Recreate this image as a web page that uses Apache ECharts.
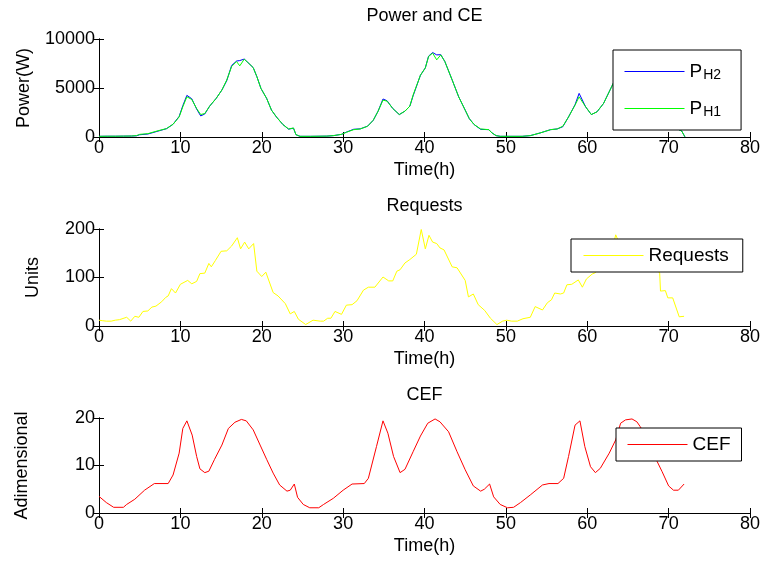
<!DOCTYPE html>
<html>
<head>
<meta charset="utf-8">
<script src="https://cdn.jsdelivr.net/npm/echarts@6/dist/echarts.min.js"></script>
<style>
  html, body { margin: 0; padding: 0; background: #ffffff; }
  #chart { width: 764px; height: 572px; }
</style>
</head>
<body>
<div id="chart"></div>
<script>
// ---- Power of the two hosts (W) over time (h) ----
const powerTime = [0, 1, 2, 3, 4, 4.6, 5, 6, 7, 8.3, 9.1, 9.85, 10.3, 10.8, 11.4, 12, 12.5, 13, 13.6, 14.4,
  15.1, 15.7, 16.3, 16.9, 17.3, 17.85, 18.3, 18.95, 19.4, 19.9, 20.6, 21.2, 21.8, 22.6, 23.3, 23.9, 24.2, 24.7,
  26, 28, 28.8, 29.8, 30.4, 31.3, 32.1, 33, 33.7, 34.3, 34.9, 35.4, 36.1, 36.9, 37.6, 38.2, 38.6, 39.5, 40.1,
  40.5, 41.0, 41.5, 42.0, 42.5, 43.4, 44.2, 45, 45.5, 46.1, 46.9, 47.9, 48.3, 48.8, 49.3, 52, 53, 54.2, 55.5,
  56.3, 57, 57.7, 58.5, 59, 59.8, 60.5, 61.2, 62, 62.5, 63.2, 63.6, 64, 64.5, 65, 65.5, 66, 66.5, 67, 67.5,
  68, 68.5, 69, 69.5, 70, 70.5, 71, 71.6, 72];
const powerH1 = [70, 80, 80, 90, 100, 140, 270, 340, 580, 860, 1300, 2050, 3080, 4100, 3830, 2900, 2290, 2400, 3150, 3940,
  4790, 5820, 7190, 7700, 7260, 7940, 7600, 7080, 6160, 4960, 3940, 2740, 2050, 1270, 820, 920, 240, 70,
  70, 90, 140, 270, 480, 750, 820, 1100, 1710, 2640, 3760, 3660, 2910, 2290, 2640, 3150, 4280, 6300, 7050,
  8210, 8560, 7870, 8380, 7700, 5820, 4100, 2740, 1880, 1270, 820, 750, 410, 140, 70, 70, 140, 410, 750,
  820, 1100, 2050, 3250, 4100, 3080, 2290, 2570, 3420, 4280, 5480, 6300, 7000, 7700, 8100, 8250, 8000, 7500, 6500, 5400,
  4400, 3500, 2700, 2050, 1500, 1100, 850, 620, 20];
const powerH2 = [70, 80, 80, 90, 100, 120, 230, 300, 540, 850, 1300, 2100, 3200, 4250, 3900, 2850, 2150, 2350, 3150, 3940,
  4790, 5750, 7300, 7750, 7800, 7950, 7600, 7080, 6160, 4960, 3940, 2740, 2050, 1270, 800, 900, 240, 70,
  70, 90, 140, 270, 500, 790, 830, 1100, 1700, 2640, 3880, 3700, 2910, 2290, 2640, 3150, 4200, 6300, 7050,
  8250, 8620, 8380, 8400, 7700, 5820, 4100, 2740, 1880, 1270, 780, 750, 410, 140, 70, 70, 140, 410, 750,
  820, 1050, 2050, 3300, 4450, 3080, 2290, 2570, 3420, 4280, 5480, 6300, 7000, 7700, 8100, 8250, 8000, 7500, 6500, 5400,
  4400, 3500, 2700, 2050, 1500, 1100, 850, 620, 20];

// ---- Incoming requests (units) ----
const requestTime = [0, 0.4, 0.9, 1.5, 2, 2.5, 3.4, 3.9, 4.4, 4.9, 5.4, 6, 6.5, 7, 7.7, 8.2, 8.5, 8.9, 9.4, 10,
  10.9, 11.4, 12, 12.4, 13, 13.5, 13.8, 14.3, 15, 15.7, 16.3, 17, 17.4, 17.9, 18.4, 19, 19.4, 20, 20.5, 21.4,
  22, 22.9, 23.5, 24, 24.5, 25.4, 26.3, 27.2, 27.6, 28.1, 28.5, 29, 29.8, 30.4, 31.1, 31.7, 32.5, 33.1, 33.9, 34.9,
  35.6, 36.1, 36.6, 37, 37.6, 38.2, 39, 39.6, 40.1, 40.55, 41, 41.5, 41.9, 42.4, 43.4, 44, 45, 45.4, 46, 46.6,
  47.4, 48.1, 48.9, 49.6, 50.1, 50.7, 51.4, 52.1, 53, 53.6, 54.5, 55.1, 55.6, 56, 56.7, 57.1, 57.5, 58.1, 58.9, 59.4,
  59.9, 60.6, 61, 61.5, 62, 62.6, 63.1, 63.5, 64, 64.5, 65, 65.5, 66, 66.5, 67, 67.5, 68, 68.5, 68.9, 69,
  69.6, 69.9, 70.5, 71.3, 71.9];
const requestUnits = [12, 11, 10, 10, 12, 13, 18, 10, 20, 18, 30, 31, 39, 41, 50, 59, 62, 77, 68, 86,
  94, 87, 92, 108, 109, 129, 122, 135, 154, 155, 165, 182, 159, 173, 159, 170, 113, 102, 111, 69,
  62, 46, 25, 30, 14, 3, 12, 10, 10, 16, 16, 30, 24, 43, 44, 52, 74, 80, 80, 101,
  93, 93, 113, 116, 130, 137, 148, 199, 159, 187, 173, 170, 161, 157, 122, 120, 94, 60, 66, 44,
  32, 16, 3, 10, 12, 10, 10, 15, 18, 40, 33, 48, 54, 68, 66, 68, 85, 86, 95, 80,
  97, 107, 110, 122, 135, 150, 160, 188, 168, 175, 166, 172, 160, 156, 148, 138, 128, 118, 109, 72,
  73, 58, 58, 19, 20];

// ---- CEF (dimensionless) ----
const cefTime = [0, 0.9, 1.8, 3, 3.4, 4.4, 5.6, 6.8, 8.5, 9.1, 9.85, 10.3, 10.8, 11.45, 12, 12.4, 13, 13.5, 14.2, 15.1,
  15.9, 16.7, 17.5, 18.1, 18.95, 19.8, 20.6, 21.4, 22.2, 23.1, 23.5, 24, 24.4, 25.1, 25.9, 27, 27.6, 28.8, 30, 31.1,
  32.6, 33.1, 34.1, 34.9, 35.5, 36.2, 37, 37.6, 38.6, 39.5, 40.4, 41.3, 41.9, 42.96, 44, 45, 46, 46.9, 47.35, 48,
  48.5, 49.3, 50.2, 50.95, 51.8, 53, 54.5, 55.3, 56.4, 57.1, 57.7, 58.5, 59.1, 59.7, 60.4, 61, 61.6, 62.7, 63.5, 64.1,
  64.7, 65.5, 66.1, 66.5, 67, 67.5, 68, 68.6, 69.2, 70, 70.6, 71.2, 71.9];
const cefValues = [3.5, 2.2, 1.2, 1.2, 1.8, 2.9, 4.8, 6.2, 6.2, 8.0, 12.6, 17.8, 19.4, 16.4, 11.9, 9.3, 8.5, 8.8, 11.3, 14.3,
  17.8, 19.1, 19.7, 19.4, 17.5, 14.3, 11.3, 8.4, 5.9, 4.6, 4.8, 6.1, 3.3, 1.8, 1.1, 1.1, 1.8, 3.1, 4.8, 6.1,
  6.2, 7.3, 14.0, 19.4, 16.8, 11.9, 8.5, 9.2, 12.9, 16.2, 18.9, 19.8, 19.2, 17.1, 12.9, 9.1, 5.7, 4.6, 5.0, 6.1,
  3.4, 1.8, 1.1, 1.2, 2.2, 3.8, 5.9, 6.2, 6.2, 7.3, 11.9, 18.5, 19.4, 14.0, 9.75, 8.5, 9.4, 12.6, 15.4, 18.9,
  19.6, 19.8, 19.2, 18.2, 16.8, 15.0, 13.0, 10.8, 8.7, 5.7, 4.8, 4.8, 6.1];

// ---- Axis ticks ----
const hourTicks = [0, 10, 20, 30, 40, 50, 60, 70, 80];
const powerTicks = [0, 5000, 10000];
const requestTicks = [0, 100, 200];
const cefTicks = [0, 10, 20];

const FONT = '"Liberation Sans", Arial, Helvetica, sans-serif';
const zip = (xs, ys) => xs.map((x, i) => [x, ys[i]]);

const grids = [
  { left: 99, top: 39, width: 651, height: 98 },
  { left: 99, top: 229, width: 651, height: 97 },
  { left: 99, top: 418, width: 651, height: 95 }
];
const titles = ['Power and CE', 'Requests', 'CEF'];
const yNames = ['Power(W)', 'Units', 'Adimensional'];
const yNameGaps = [66, 57, 68];
const yTickSets = [powerTicks, requestTicks, cefTicks];

const axisLine = { show: true, lineStyle: { color: '#000', width: 1 } };
const tickIn = { show: true, inside: true, length: 5, lineStyle: { color: '#000', width: 1 } };
const txt = { color: '#000', fontFamily: FONT, fontSize: 18 };
const plain = v => String(v);

const xAxes = [];
const yAxes = [];
grids.forEach((g, i) => {
  const xMin = hourTicks[0], xMax = hourTicks[hourTicks.length - 1], xStep = hourTicks[1] - hourTicks[0];
  const ticks = yTickSets[i];
  const yMin = ticks[0], yMax = ticks[ticks.length - 1], yStep = ticks[1] - ticks[0];
  // bottom axis (labels + name)
  xAxes.push({
    type: 'value', gridIndex: i, position: 'bottom', min: xMin, max: xMax, interval: xStep,
    axisLine, axisTick: tickIn, splitLine: { show: false },
    axisLabel: Object.assign({ margin: 2, formatter: plain }, txt),
    name: 'Time(h)', nameLocation: 'middle', nameGap: 24, nameTextStyle: txt
  });
  // top axis (box edge + title)
  xAxes.push({
    type: 'value', gridIndex: i, position: 'top', min: xMin, max: xMax, interval: xStep,
    axisLine, axisTick: tickIn, splitLine: { show: false }, axisLabel: { show: false },
    name: titles[i], nameLocation: 'middle', nameGap: 14, nameTextStyle: txt
  });
  // left axis
  yAxes.push({
    type: 'value', gridIndex: i, position: 'left', min: yMin, max: yMax, interval: yStep,
    axisLine, axisTick: tickIn, splitLine: { show: false },
    axisLabel: Object.assign({ margin: 4, formatter: plain }, txt),
    name: yNames[i], nameLocation: 'middle', nameRotate: 90, nameGap: yNameGaps[i], nameTextStyle: txt
  });
  // right axis (box edge)
  yAxes.push({
    type: 'value', gridIndex: i, position: 'right', min: yMin, max: yMax, interval: yStep,
    axisLine, axisTick: tickIn, splitLine: { show: false }, axisLabel: { show: false }
  });
});

const lineSeries = (name, data, color, k) => ({
  name, type: 'line', data, xAxisIndex: 2 * k, yAxisIndex: 2 * k,
  symbol: 'none', showSymbol: false, smooth: false,
  lineStyle: { color, width: 1 }, itemStyle: { color },
  emphasis: { disabled: true }, animation: false
});

const legendBase = {
  orient: 'vertical', backgroundColor: '#fff', borderColor: '#000', borderWidth: 1, borderRadius: 0,
  itemWidth: 60, itemHeight: 14, selectedMode: false,
  itemStyle: { opacity: 0 },
  lineStyle: { width: 1 },
  textStyle: {
    color: '#000', fontFamily: FONT, fontSize: 19,
    rich: {
      p: { color: '#000', fontFamily: FONT, fontSize: 19, lineHeight: 20 },
      s: { color: '#000', fontFamily: FONT, fontSize: 14, lineHeight: 14, padding: [7, 0, 0, 1] }
    }
  }
};

const option = {
  backgroundColor: '#fff',
  animation: false,
  grid: grids.map(g => Object.assign({ show: false }, g)),
  xAxis: xAxes,
  yAxis: yAxes,
  legend: [
    Object.assign({}, legendBase, {
      data: ['PH2', 'PH1'], left: 613, top: 50, padding: [11, 20, 11, 11], itemGap: 16,
      formatter: n => '{p|P}{s|' + n.slice(1) + '}'
    }),
    Object.assign({}, legendBase, {
      data: ['Requests'], left: 571, top: 239, padding: [7, 14, 7, 12]
    }),
    Object.assign({}, legendBase, {
      data: ['CEF'], left: 616, top: 428, padding: [7, 11, 7, 11]
    })
  ],
  series: [
    lineSeries('PH2', zip(powerTime, powerH2), '#0000ff', 0),
    lineSeries('PH1', zip(powerTime, powerH1), '#00ff00', 0),
    lineSeries('Requests', zip(requestTime, requestUnits), '#ffff00', 1),
    lineSeries('CEF', zip(cefTime, cefValues), '#ff0000', 2)
  ]
};

const chart = echarts.init(document.getElementById('chart'), null, { renderer: 'canvas' });
chart.setOption(option);
</script>
</body>
</html>
